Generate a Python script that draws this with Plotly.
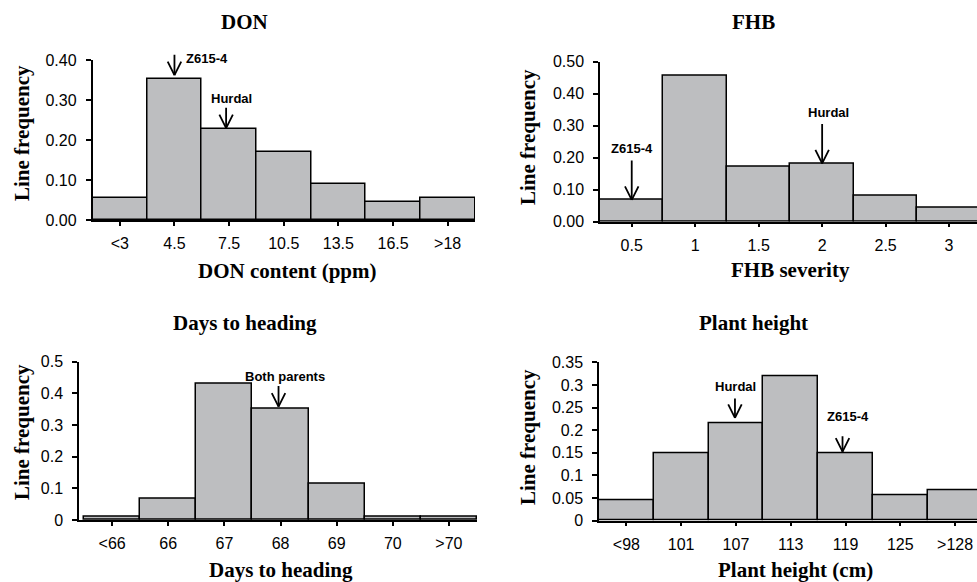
import plotly.graph_objects as go

W, H = 977, 582

# ---------------- data ----------------
don_cats = ['<3', '4.5', '7.5', '10.5', '13.5', '16.5', '>18']
don_freq = [0.056, 0.352, 0.227, 0.170, 0.091, 0.045, 0.056]

fhb_cats = ['0.5', '1', '1.5', '2', '2.5', '3']
fhb_freq = [0.068, 0.456, 0.171, 0.182, 0.080, 0.045]

dth_cats = ['<66', '66', '67', '68', '69', '70', '>70']
dth_freq = [0.010, 0.067, 0.432, 0.352, 0.114, 0.010, 0.010]

ph_cats = ['<98', '101', '107', '113', '119', '125', '>128']
ph_freq = [0.045, 0.148, 0.216, 0.319, 0.148, 0.057, 0.068]

# parent markers: (label, category)
don_parents = [('Z615-4', '4.5'), ('Hurdal', '7.5')]
fhb_parents = [('Z615-4', '0.5'), ('Hurdal', '2')]
dth_parents = [('Both parents', '68')]
ph_parents = [('Hurdal', '107'), ('Z615-4', '119')]

# ---------------- styling / layout ----------------
BAR_FILL = '#bdbec0'
SERIF = 'Liberation Serif, Times New Roman, serif'
SANS = 'Liberation Sans, Arial, Helvetica, sans-serif'
HEAD_DX, HEAD_DY = 7.5, 15   # open "V" arrow head size in pixels

panels = [
    dict(cats=don_cats, vals=don_freq, parents=don_parents,
         title='DON', xtitle='DON content (ppm)',
         px_x=(92.5, 475), px_y=(60, 220), xrange=[-0.5, 6.5], yrange=[0, 0.40],
         dtick=0.1, fmt='.2f',
         title_xy=(245, 22), xtitle_xy=(287, 271), ytitle_xy=(22, 133),
         # per-marker: (arrow_len, standoff, arrow_xshift, label_xshift, label_yshift, xanchor)
         marks=[(22, 4, 0, 10, 21, 'left'), (22, 1, -3, 2, 31, 'center')]),
    dict(cats=fhb_cats, vals=fhb_freq, parents=fhb_parents,
         title='FHB', xtitle='FHB severity',
         px_x=(600, 977), px_y=(61.7, 221.7), xrange=[-0.5, 5.44], yrange=[0, 0.50],
         dtick=0.1, fmt='.2f',
         title_xy=(753, 22), xtitle_xy=(790, 270), ytitle_xy=(528, 137),
         marks=[(41, 0, 0, 0, 51, 'center'), (41, 0, 0, 6, 51, 'center')]),
    dict(cats=dth_cats, vals=dth_freq, parents=dth_parents,
         title='Days to heading', xtitle='Days to heading',
         px_x=(79, 477), px_y=(361.7, 520), xrange=[-0.59, 6.5], yrange=[0, 0.5],
         dtick=0.1, fmt='',
         title_xy=(245, 323), xtitle_xy=(281, 570), ytitle_xy=(22, 432),
         marks=[(22, 2, -2, 4, 32, 'center')]),
    dict(cats=ph_cats, vals=ph_freq, parents=ph_parents,
         title='Plant height', xtitle='Plant height (cm)',
         px_x=(599, 977), px_y=(362.3, 520.7), xrange=[-0.5, 6.4], yrange=[0, 0.35],
         dtick=0.05, fmt='',
         title_xy=(753, 323), xtitle_xy=(795, 570), ytitle_xy=(528, 437),
         marks=[(21, 5, -1, 0, 36, 'center'), (17, 2, -3, 2, 37, 'center')]),
]

fig = go.Figure()
annotations = []
layout = {}

for i, p in enumerate(panels, start=1):
    sfx = '' if i == 1 else str(i)
    xname, yname = 'x' + sfx, 'y' + sfx
    fig.add_trace(go.Bar(
        x=p['cats'], y=p['vals'], xaxis=xname, yaxis=yname, width=1,
        marker=dict(color=BAR_FILL, line=dict(color='black', width=1.5)),
        showlegend=False, hoverinfo='x+y'))

    x0, x1 = p['px_x']
    y0, y1 = p['px_y']
    layout['xaxis' + sfx] = dict(
        domain=[x0 / W, x1 / W], anchor=yname, type='category',
        categoryorder='array', categoryarray=p['cats'], range=p['xrange'],
        showline=True, linecolor='black', linewidth=1.5,
        ticks='outside', ticklen=4, tickwidth=1.5, tickcolor='black',
        showgrid=False, zeroline=False, ticklabelstandoff=4, automargin=False,
        tickfont=dict(family=SANS, size=16, color='black'), fixedrange=True)
    layout['yaxis' + sfx] = dict(
        domain=[1 - y1 / H, 1 - y0 / H], anchor=xname, range=p['yrange'],
        tick0=0, dtick=p['dtick'], tickformat=p['fmt'],
        showline=True, linecolor='black', linewidth=1.5,
        ticks='outside', ticklen=5, tickwidth=1.5, tickcolor='black',
        showgrid=False, zeroline=False, ticklabelstandoff=6, automargin=False,
        tickfont=dict(family=SANS, size=16, color='black'), fixedrange=True)

    # titles
    tx, ty = p['title_xy']
    annotations.append(dict(xref='paper', yref='paper', x=tx / W, y=1 - ty / H,
                            text=p['title'], showarrow=False, xanchor='center', yanchor='middle',
                            font=dict(family=SERIF, size=21, color='black', weight='bold')))
    tx, ty = p['xtitle_xy']
    annotations.append(dict(xref='paper', yref='paper', x=tx / W, y=1 - ty / H,
                            text=p['xtitle'], showarrow=False, xanchor='center', yanchor='middle',
                            font=dict(family=SERIF, size=21, color='black', weight='bold')))
    tx, ty = p['ytitle_xy']
    annotations.append(dict(xref='paper', yref='paper', x=tx / W, y=1 - ty / H,
                            text='Line frequency', showarrow=False, textangle=-90,
                            xanchor='center', yanchor='middle',
                            font=dict(family=SERIF, size=21, color='black', weight='bold')))

    # parent arrows (shaft + open V head) and labels, at the bar's category index and height
    for (name, cat), (alen, stand, axs, lxs, lys, xanc) in zip(p['parents'], p['marks']):
        idx = p['cats'].index(cat)
        val = p['vals'][idx]
        for adx, ady in [(0, -alen), (-HEAD_DX, -HEAD_DY), (HEAD_DX, -HEAD_DY)]:
            annotations.append(dict(xref=xname, yref=yname, x=idx, y=val, text='',
                                    showarrow=True, ax=adx, ay=ady, axref='pixel', ayref='pixel',
                                    arrowhead=0, arrowwidth=1.8, arrowcolor='black',
                                    standoff=0, xshift=axs, yshift=stand))
        annotations.append(dict(xref=xname, yref=yname, x=idx, y=val, text=name,
                                showarrow=False, xanchor=xanc, yanchor='middle',
                                xshift=lxs, yshift=lys,
                                font=dict(family=SANS, size=13, color='black', weight='bold')))

fig.update_layout(
    template='none',
    width=W, height=H, autosize=False,
    margin=dict(l=0, r=0, t=0, b=0, pad=0),
    paper_bgcolor='white', plot_bgcolor='white',
    bargap=0, annotations=annotations, **layout)

fig.write_html('out.html',
               config={'displayModeBar': False},
               post_script="document.body.style.margin='0';document.body.style.overflow='hidden';")
